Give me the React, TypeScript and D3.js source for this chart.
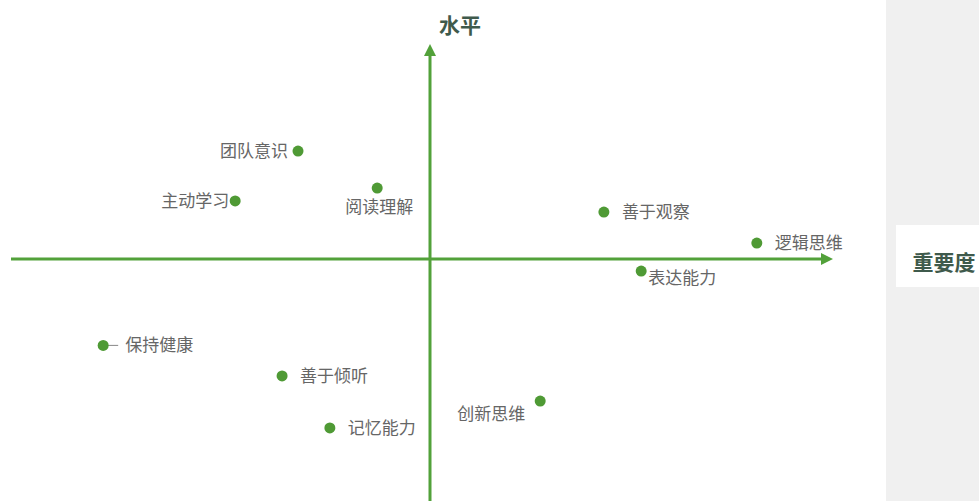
import React from "react";
import * as d3 from "d3";

const names = ["团队意识", "阅读理解", "主动学习", "善于观察", "逻辑思维", "表达能力", "保持健康", "善于倾听", "记忆能力", "创新思维"];
const importance = [-3.15, -1.26, -4.65, 4.15, 7.8, 5.04, -7.8, -3.53, -2.39, 2.63];
const level = [4.46, 2.93, 2.4, 1.94, 0.66, -0.5, -3.57, -4.83, -6.98, -5.87];
const labelPos = ["left", "bottom", "leftTight", "right", "right", "rightBelow", "rightLine", "right", "right", "leftBelow"];
const xTitle = "重要度";
const yTitle = "水平";

const W = 979;
const H = 501;
const green = "#52a13a";
const dotColor = "#4f9a35";
const labelColor = "#666";
const font = "'Noto Sans CJK SC', 'Noto Sans', sans-serif";

export default function App() {
  const x = d3.scaleLinear().domain([-10, 10]).range([11, 849]);
  const y = d3.scaleLinear().domain([-10, 10]).range([501, 17]);
  const x0 = x(0);
  const y0 = y(0);
  const hEnd = 833;
  const vTop = 44;

  return (
    <svg width={W} height={H} style={{ position: "absolute", left: 0, top: 0, background: "#fff" }}>
      <rect x={886} y={0} width={W - 886} height={H} fill="#f0f0f0" />
      <rect x={896} y={225} width={W - 896} height={62} fill="#fff" />
      <text x={944} y={270} textAnchor="middle" fontFamily={font} fontWeight="bold" fontSize={21} fill="#3f5a4c">{xTitle}</text>
      <text x={460} y={33} textAnchor="middle" fontFamily={font} fontWeight="bold" fontSize={21} fill="#3f5a4c">{yTitle}</text>

      <line x1={11} x2={hEnd - 10} y1={y0} y2={y0} stroke={green} strokeWidth={3} />
      <path d={`M${hEnd},${y0} L${hEnd - 12},${y0 - 6} L${hEnd - 12},${y0 + 6} Z`} fill={green} />
      <line x1={x0} x2={x0} y1={H} y2={vTop + 10} stroke={green} strokeWidth={3} />
      <path d={`M${x0},${vTop} L${x0 - 6},${vTop + 12} L${x0 + 6},${vTop + 12} Z`} fill={green} />

      {names.map((n, i) => {
        const cx = x(importance[i]);
        const cy = y(level[i]);
        const p = labelPos[i];
        let tx = cx, ty = cy + 6, anchor: "start" | "end" | "middle" = "start";
        if (p === "left") { tx = cx - 10; anchor = "end"; }
        else if (p === "leftTight") { tx = cx - 6; anchor = "end"; }
        else if (p === "right") { tx = cx + 18; }
        else if (p === "bottom") { tx = cx + 2; ty = cy + 25; anchor = "middle"; }
        else if (p === "rightBelow") { tx = cx + 7; ty = cy + 13; }
        else if (p === "rightLine") { tx = cx + 22; }
        else if (p === "leftBelow") { tx = cx - 15; ty = cy + 19; anchor = "end"; }
        return (
          <g key={n}>
            {p === "rightLine" && <line x1={cx} x2={cx + 15} y1={cy} y2={cy} stroke="#888" strokeWidth={1} />}
            <circle cx={cx} cy={cy} r={5.5} fill={dotColor} />
            <text x={tx} y={ty} textAnchor={anchor} fontFamily={font} fontSize={17} fill={labelColor}>{n}</text>
          </g>
        );
      })}
    </svg>
  );
}
